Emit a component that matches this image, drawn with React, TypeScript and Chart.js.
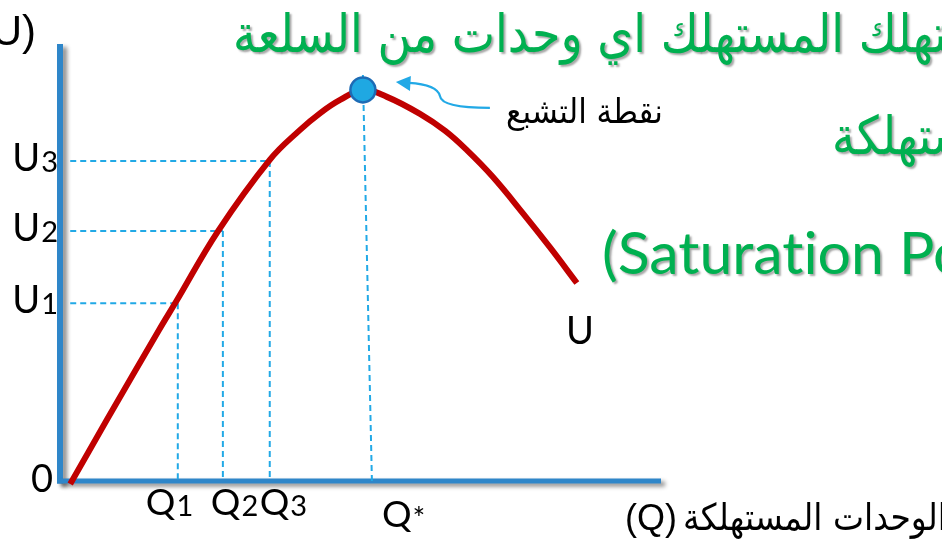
import React, { useEffect, useRef } from 'react';
import { Chart, registerables } from 'chart.js';

Chart.register(...registerables);

// ---- data (x = quantity consumed, y = total utility, arbitrary units 0..100) ----
const curveQ = [1.7, 7.8, 16.5, 19.3, 26.3, 34.9, 39.9, 43.3, 46.6, 50.4, 54.4, 59.9, 64.1, 67.7, 72.0, 77.0, 81.5, 86.0];
const curveU = [-0.7, 14.0, 34.6, 41.0, 57.2, 73.5, 80.3, 84.2, 87.2, 89.5, 87.9, 84.0, 80.1, 75.7, 69.6, 61.3, 53.5, 45.3];

const levelIndex = ['1', '2', '3'];
const levelQ = [19.6, 27.1, 34.9];
const levelU = [40.7, 57.2, 73.2];
const guideStartQ = 1.7;

const saturationQ = 50.4;
const saturationU = 89.5;
const saturationLineQ = [50.4, 51.9];
const saturationLineU = [92.9, 0];

const axisMin = 0;
const axisMax = 100;

// ---- texts ----
const titleLine1 = 'عندما يستهلك المستهلك اي وحدات من السلعة';
const titleLine1Visible = 'هلك المستهلك اي وحدات من السلعة';
const titleLine2 = 'المستهلكة';
const titleLine3Parts = ['(Saturat', 'ion Point)'];
const titleLine3Measure = '(Saturation';
const saturationLabel = 'نقطة التشبع';
const xAxisTitleArabic = 'الوحدات المستهلكة';
const xAxisTitleSymbol = '(Q)';
const yAxisTitle = '(U)';
const curveLabel = 'U';
const qStarLabel = 'Q';

// ---- layout / style (not data) ----
const W = 942;
const H = 539;
const AXIS_BLUE = '#2E86C9';
const CURVE_RED = '#C00000';
const DASH_BLUE = '#22A9E6';
const GREEN = '#00B050';
const qLabelDx = [-32, -12, -10];
const LATIN = 'Lato, "Liberation Sans", sans-serif';
const ARABIC = '"DejaVu Sans", sans-serif';

function drawFitted(
  ctx: CanvasRenderingContext2D,
  text: string,
  measure: string,
  font: string,
  left: number,
  baseline: number,
  targetWidth: number,
  dir: CanvasDirection,
  fixedScale?: number
) {
  ctx.save();
  ctx.font = font;
  ctx.direction = dir;
  ctx.textAlign = 'left';
  ctx.textBaseline = 'alphabetic';
  const w = ctx.measureText(measure).width;
  const sx = fixedScale ?? targetWidth / w;
  ctx.translate(left, baseline);
  ctx.scale(sx, 1);
  ctx.fillText(text, 0, 0);
  ctx.restore();
  return sx;
}

function drawSub(ctx: CanvasRenderingContext2D, main: string, sub: string, left: number, baseline: number, mainSize: number, subSize: number) {
  ctx.save();
  ctx.textAlign = 'left';
  ctx.textBaseline = 'alphabetic';
  ctx.font = `${mainSize}px ${LATIN}`;
  ctx.fillText(main, left, baseline);
  const mw = ctx.measureText(main).width;
  ctx.font = `${subSize}px ${LATIN}`;
  ctx.fillText(sub, left + mw + 1, baseline + 1);
  ctx.restore();
}

function subWidth(ctx: CanvasRenderingContext2D, main: string, sub: string, mainSize: number, subSize: number) {
  ctx.save();
  ctx.font = `${mainSize}px ${LATIN}`;
  const a = ctx.measureText(main).width;
  ctx.font = `${subSize}px ${LATIN}`;
  const b = ctx.measureText(sub).width;
  ctx.restore();
  return a + b + 1;
}

const overlayPlugin = {
  id: 'utilityOverlay',
  beforeDatasetsDraw(chart: any) {
    const { ctx, chartArea, scales } = chart;
    const xs = scales.x;
    const ys = scales.y;
    const x0 = xs.getPixelForValue(0);
    const y0 = ys.getPixelForValue(0);
    ctx.save();
    ctx.shadowColor = 'rgba(0,0,0,0.45)';
    ctx.shadowBlur = 4;
    ctx.shadowOffsetX = 4;
    ctx.shadowOffsetY = 3;
    ctx.strokeStyle = AXIS_BLUE;
    ctx.lineCap = 'butt';
    ctx.lineWidth = 6;
    ctx.beginPath();
    ctx.moveTo(x0, chartArea.top);
    ctx.lineTo(x0, y0 + 2.5);
    ctx.stroke();
    ctx.lineWidth = 5;
    ctx.beginPath();
    ctx.moveTo(x0 - 3, y0);
    ctx.lineTo(chartArea.right, y0);
    ctx.stroke();
    ctx.restore();
  },
  afterDatasetsDraw(chart: any) {
    const { ctx, chartArea, scales } = chart;
    const xs = scales.x;
    const ys = scales.y;
    const x0 = xs.getPixelForValue(0);
    const y0 = ys.getPixelForValue(0);

    // --- green title text with shadow ---
    ctx.save();
    ctx.fillStyle = GREEN;
    ctx.shadowColor = 'rgba(0,0,0,0.35)';
    ctx.shadowBlur = 2;
    ctx.shadowOffsetX = 2;
    ctx.shadowOffsetY = 2;
    const sx = drawFitted(ctx, titleLine1, titleLine1Visible, `53px ${ARABIC}`, 233, 52, 704, 'rtl');
    drawFitted(ctx, titleLine2, titleLine2, `53px ${ARABIC}`, 832, 154, 0, 'rtl', sx);
    // Latin line drawn in two pieces so no "ti" ligature forms
    ctx.save();
    ctx.font = `58px ${LATIN}`;
    ctx.textAlign = 'left';
    ctx.textBaseline = 'alphabetic';
    const lsx = 283 / ctx.measureText(titleLine3Measure).width;
    ctx.translate(602, 274);
    ctx.scale(lsx, 1);
    ctx.fillText(titleLine3Parts[0], 0, 0);
    const p0w = ctx.measureText(titleLine3Parts[0]).width;
    ctx.fillText(titleLine3Parts[1], p0w, 0);
    ctx.restore();
    ctx.restore();

    // --- arrow to saturation point ---
    const sp = { x: xs.getPixelForValue(saturationQ), y: ys.getPixelForValue(saturationU) };
    ctx.save();
    ctx.strokeStyle = DASH_BLUE;
    ctx.fillStyle = DASH_BLUE;
    ctx.lineWidth = 2.2;
    ctx.beginPath();
    ctx.moveTo(sp.x + 127, sp.y + 18);
    ctx.bezierCurveTo(sp.x + 95, sp.y + 18, sp.x + 78, sp.y + 14, sp.x + 77, sp.y + 6);
    ctx.bezierCurveTo(sp.x + 75, sp.y - 2, sp.x + 62, sp.y - 6, sp.x + 46, sp.y - 7);
    ctx.stroke();
    ctx.beginPath();
    ctx.moveTo(sp.x + 33, sp.y - 8);
    ctx.lineTo(sp.x + 48, sp.y - 14);
    ctx.lineTo(sp.x + 47, sp.y + 1);
    ctx.closePath();
    ctx.fill();
    ctx.restore();

    // --- black labels ---
    ctx.save();
    ctx.fillStyle = '#000';
    drawFitted(ctx, saturationLabel, saturationLabel, `34px ${ARABIC}`, sp.x + 143, sp.y + 33, 157, 'rtl');

    // x-axis title: "(Q)" then Arabic words
    ctx.save();
    ctx.font = `36px "Liberation Sans", sans-serif`;
    ctx.textAlign = 'left';
    ctx.textBaseline = 'alphabetic';
    ctx.fillText(xAxisTitleSymbol, chartArea.right - 36, y0 + 49);
    ctx.restore();
    drawFitted(ctx, xAxisTitleArabic, xAxisTitleArabic, `37px ${ARABIC}`, chartArea.right + 22, y0 + 49, 264, 'rtl');

    // (U) top-left
    ctx.font = `42px "Liberation Sans", sans-serif`;
    ctx.textAlign = 'right';
    ctx.textBaseline = 'alphabetic';
    ctx.fillText(yAxisTitle, x0 - 24, chartArea.top + 1);

    // origin 0
    ctx.font = `38px ${LATIN}`;
    ctx.textAlign = 'right';
    ctx.fillText('0', x0 - 7, y0 + 11);

    // U levels and Q levels
    levelIndex.forEach((d, i) => {
      const py = ys.getPixelForValue(levelU[i]);
      const w = subWidth(ctx, 'U', d, 38, 29);
      drawSub(ctx, 'U', d, x0 - 2 - w, py + 10, 38, 29);
      const px = xs.getPixelForValue(levelQ[i]);
      drawSub(ctx, 'Q', d, px + qLabelDx[i], y0 + 34, 37, 29);
    });

    // Q*
    const qsx = xs.getPixelForValue(saturationLineQ[1]);
    ctx.save();
    ctx.textAlign = 'left';
    ctx.font = `37px ${LATIN}`;
    ctx.fillText(qStarLabel, qsx + 10, y0 + 46);
    const qw = ctx.measureText(qStarLabel).width;
    ctx.font = `30px ${LATIN}`;
    ctx.fillText('*', qsx + 11 + qw, y0 + 48);
    ctx.restore();

    // U at end of curve
    const last = curveQ.length - 1;
    const ex = xs.getPixelForValue(curveQ[last]);
    const ey = ys.getPixelForValue(curveU[last]);
    ctx.font = `38px ${LATIN}`;
    ctx.textAlign = 'center';
    ctx.fillText(curveLabel, ex + 3, ey + 61);
    ctx.restore();
  },
};

export default function App() {
  const ref = useRef<HTMLCanvasElement | null>(null);

  useEffect(() => {
    document.body.style.margin = '0';
    const canvas = ref.current;
    if (!canvas) return;

    const dashStyle = {
      borderColor: DASH_BLUE,
      borderWidth: 2,
      borderDash: [6, 4],
      pointRadius: 0,
      fill: false,
      tension: 0,
      clip: false as any,
    };

    const guideSets: any[] = [];
    levelIndex.forEach((_, i) => {
      guideSets.push({
        ...dashStyle,
        data: [
          { x: guideStartQ, y: levelU[i] },
          { x: levelQ[i], y: levelU[i] },
        ],
      });
      guideSets.push({
        ...dashStyle,
        data: [
          { x: levelQ[i], y: levelU[i] },
          { x: levelQ[i], y: 0 },
        ],
      });
    });

    const chart = new Chart(canvas, {
      type: 'line',
      data: {
        datasets: [
          {
            data: [{ x: saturationQ, y: saturationU }],
            showLine: false,
            pointRadius: 12.5,
            pointBackgroundColor: '#1FA8E2',
            pointBorderColor: '#1D6BB5',
            pointBorderWidth: 2.5,
            clip: false as any,
          },
          {
            data: curveQ.map((q, i) => ({ x: q, y: curveU[i] })),
            borderColor: CURVE_RED,
            borderWidth: 6,
            borderCapStyle: 'butt',
            borderJoinStyle: 'round',
            tension: 0.4,
            pointRadius: 0,
            fill: false,
            clip: false as any,
          },
          {
            ...dashStyle,
            data: saturationLineQ.map((q, i) => ({ x: q, y: saturationLineU[i] })),
          },
          ...guideSets,
        ],
      },
      options: {
        animation: false,
        responsive: false,
        maintainAspectRatio: false,
        events: [],
        layout: { padding: { left: 60, right: W - 661, top: 44, bottom: H - 481 } },
        scales: {
          x: { type: 'linear', min: axisMin, max: axisMax, display: false },
          y: { type: 'linear', min: axisMin, max: axisMax, display: false },
        },
        plugins: {
          legend: { display: false },
          tooltip: { enabled: false },
        },
      },
      plugins: [overlayPlugin],
    } as any);

    return () => chart.destroy();
  }, []);

  return (
    <div style={{ width: W, height: H, background: '#fff', overflow: 'hidden' }}>
      <canvas ref={ref} width={W} height={H} style={{ display: 'block', width: W, height: H }} />
    </div>
  );
}
